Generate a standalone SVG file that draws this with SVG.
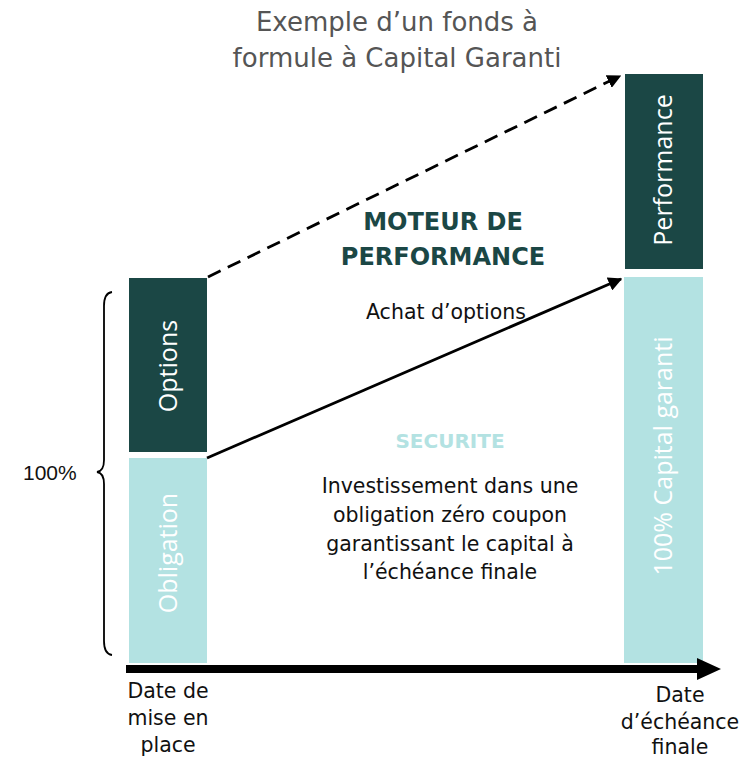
<svg xmlns="http://www.w3.org/2000/svg" width="740" height="758" viewBox="0 0 740 758">
  <defs>
    <style>
      .title { font-family: "DejaVu Sans", "Liberation Sans", sans-serif; font-size: 26px; fill: #555555; text-anchor: middle; }
      .head { font-family: "DejaVu Sans", "Liberation Sans", sans-serif; font-size: 24px; font-weight: bold; fill: #1b4745; text-anchor: middle; }
      .sub { font-family: "DejaVu Sans", "Liberation Sans", sans-serif; font-size: 20px; font-weight: bold; fill: #b3e2e2; text-anchor: middle; }
      .body { font-family: "DejaVu Sans", "Liberation Sans", sans-serif; font-size: 20.5px; fill: #111111; text-anchor: middle; }
      .axis { font-family: "DejaVu Sans", "Liberation Sans", sans-serif; font-size: 20.5px; fill: #111111; text-anchor: middle; }
      .bar { font-family: "Open Sans", "Noto Sans", sans-serif; font-size: 25px; fill: #ffffff; text-anchor: middle; }
      .pct { font-family: "Liberation Sans", Arial, sans-serif; font-size: 21px; fill: #111111; }
      .dark { fill: #1b4745; }
      .light { fill: #b3e2e2; }
      .conn { stroke: #000000; stroke-width: 2.8; fill: none; }
    </style>
    <marker id="tip" viewBox="0 0 10 10" refX="9" refY="5" markerWidth="5" markerHeight="5" orient="auto" markerUnits="strokeWidth">
      <path d="M0,0 L10,5 L0,10 Z" fill="#000000"/>
    </marker>
  </defs>

  <rect width="740" height="758" fill="#ffffff"/>

  <!-- Title -->
  <g id="title">
    <text class="title" x="397" y="31">Exemple d’un fonds à</text>
    <text class="title" x="397" y="67">formule à Capital Garanti</text>
  </g>

  <!-- Start-date column -->
  <g id="options">
    <rect class="dark" x="129" y="278" width="78" height="174"/>
    <text class="bar" transform="translate(177,366) rotate(-90)">Options</text>
  </g>
  <g id="obligation">
    <rect class="light" x="129" y="458" width="78" height="205"/>
    <text class="bar" transform="translate(177,553) rotate(-90)">Obligation</text>
  </g>

  <!-- Maturity column -->
  <g id="performance">
    <rect class="dark" x="625" y="74" width="78" height="195"/>
    <text class="bar" transform="translate(672,170) rotate(-90)">Performance</text>
  </g>
  <g id="capital">
    <rect class="light" x="624" y="277" width="79" height="386"/>
    <text class="bar" transform="translate(672,456) rotate(-90)">100% Capital garanti</text>
  </g>

  <!-- Brace covering 100% -->
  <g id="brace">
    <path d="M112,292 Q104,293 104,306 L104,460 Q104,471 97,472 Q104,473 104,484 L104,641 Q104,654 112,655" fill="none" stroke="#000000" stroke-width="1.8"/>
    <text class="pct" x="23" y="480">100%</text>
  </g>

  <!-- Connectors -->
  <g id="connectors">
    <line class="conn" x1="208" y1="277" x2="620" y2="76" stroke-dasharray="14,8" marker-end="url(#tip)"/>
    <line class="conn" x1="207" y1="458" x2="621" y2="279" marker-end="url(#tip)"/>
    <path d="M126,665 L697,665 L697,658 L721,669 L697,680 L697,673 L126,673 Z" fill="#000000"/>
  </g>

  <!-- Labels -->
  <g id="moteur">
    <text class="head" x="443" y="230">MOTEUR DE</text>
    <text class="head" x="443" y="265">PERFORMANCE</text>
    <text class="body" x="446" y="319">Achat d’options</text>
  </g>
  <g id="securite">
    <text class="sub" x="450" y="448">SECURITE</text>
    <text class="body" x="450" y="493">Investissement dans une</text>
    <text class="body" x="450" y="522">obligation zéro coupon</text>
    <text class="body" x="450" y="551">garantissant le capital à</text>
    <text class="body" x="450" y="579">l’échéance finale</text>
  </g>
  <g id="start-date">
    <text class="axis" x="168" y="698">Date de</text>
    <text class="axis" x="168" y="725">mise en</text>
    <text class="axis" x="168" y="752">place</text>
  </g>
  <g id="end-date">
    <text class="axis" x="680" y="702">Date</text>
    <text class="axis" x="680" y="729">d’échéance</text>
    <text class="axis" x="680" y="754">finale</text>
  </g>
</svg>
